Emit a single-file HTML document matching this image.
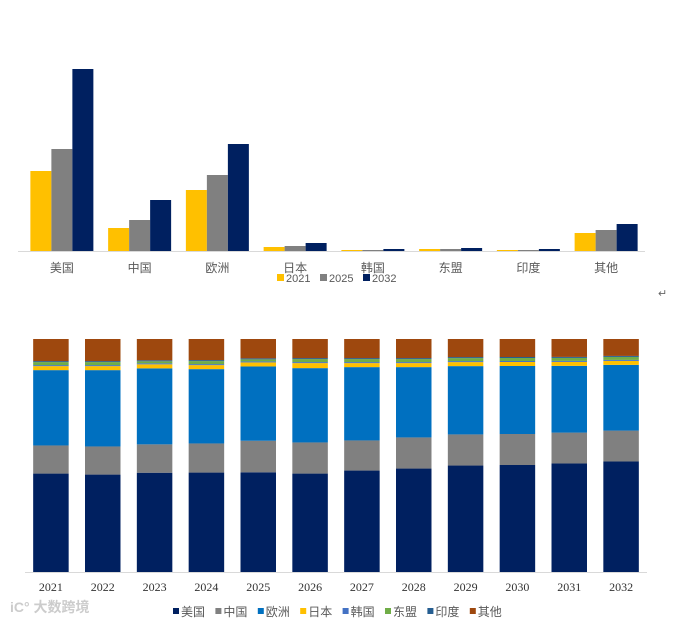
<!DOCTYPE html>
<html><head><meta charset="utf-8"><style>
html,body{margin:0;padding:0;background:#fff;}
svg{display:block;font-family:"Liberation Sans","Noto Sans CJK SC",sans-serif;}
</style></head><body>
<svg id="c" width="692" height="621" viewBox="0 0 692 621" xmlns="http://www.w3.org/2000/svg">
<g id="top"></g>
<g id="bot"></g>
<text x="658" y="297" font-size="11" fill="#666">↵</text>
<text x="10" y="612" font-size="14" fill="#ccc" font-weight="bold">iC° 大数跨境</text>
</svg>
<script>
const topCats = ["美国","中国","欧洲","日本","韩国","东盟","印度","其他"];
const topSeries = ["2021","2025","2032"];
const v2021 = [80,23,61,4,1,2,1,18];
const v2025 = [102,31,76,5,1,2,1,21];
const v2032 = [182,51,107,8,2,3,2,27];
const topMax = 182;

const years = ["2021","2022","2023","2024","2025","2026","2027","2028","2029","2030","2031","2032"];
const stackSeries = ["美国","中国","欧洲","日本","韩国","东盟","印度","其他"];
const sUS = [98,97,98,99,98,98,101,103,106,107,109,111];
const sCN = [28,28,28,29,31,31,30,31,31,31,31,31];
const sEU = [75,76,75,74,73,74,73,70,68,68,67,66];
const sJP = [4,4,4,4,4,5,4,4,4,4,4,4];
const sKR = [1,1,1,1,1,1,1,1,1,1,1,1];
const sAS = [3,3,2,3,2,3,3,3,3,3,3,3];
const sIN = [1,1,1,1,1,1,1,1,1,1,1,1];
const sOT = [22,22,21,21,19,19,19,19,18,18,18,17];

const NS="http://www.w3.org/2000/svg";
function mk(tag,attrs,parent){const e=document.createElementNS(NS,tag);for(const k in attrs)e.setAttribute(k,attrs[k]);parent.appendChild(e);return e;}

// Top chart
const T=document.getElementById('top');
const tx0=23,tx1=645,tBase=251,tH=182;
const gW=(tx1-tx0)/topCats.length, bW=21;
const topVals=[v2021,v2025,v2032], topCols=["#ffc000","#808080","#002060"];
const ty=v=>tBase-v/topMax*tH;
topCats.forEach((c,i)=>{
  const gx=tx0+i*gW+(gW-3*bW)/2;
  topVals.forEach((arr,s)=>{
    const r=mk('rect',{x:gx+s*bW,y:ty(arr[i]),width:bW,height:tBase-ty(arr[i]),fill:topCols[s]},T);
    
    
  });
  const t=mk('text',{x:tx0+i*gW+gW/2,y:272,'font-size':12,fill:'#595959','text-anchor':'middle'},T);
  t.textContent=c;
  
  
});
const ta=mk('line',{x1:tx0-5,x2:tx1,y1:tBase+0.5,y2:tBase+0.5,stroke:'#d9d9d9','stroke-width':1},T);


topSeries.forEach((s,k)=>{
  const lx=277+k*43;
  const m=mk('rect',{x:lx,y:274,width:7,height:7,fill:topCols[k]},T);
  
  
  const t=mk('text',{x:lx+9,y:282,'font-size':11,fill:'#595959'},T);
  t.textContent=s;
  
  
});

// Bottom chart
const B=document.getElementById('bot');
const bx0=25,bx1=647,bBase=572,bH=233;
const slot=(bx1-bx0)/years.length, sbW=35.5;
const stacks=[sUS,sCN,sEU,sJP,sKR,sAS,sIN,sOT];
const sCols=["#002060","#808080","#0070c0","#ffc000","#4472c4","#70ad47","#255e91","#9e480e"];
years.forEach((yr,i)=>{
  let tot=0; stacks.forEach(a=>tot+=a[i]);
  let acc=0;
  const x=bx0+i*slot+(slot-sbW)/2;
  stacks.forEach((a,s)=>{
    const y0=bBase-acc/tot*bH; acc+=a[i]; const y1=bBase-acc/tot*bH;
    const r=mk('rect',{x:x,y:y1,width:sbW,height:y0-y1,fill:sCols[s]},B);
    
    
  });
  const t=mk('text',{x:x+sbW/2,y:591,'font-size':12,fill:'#333','text-anchor':'middle','font-family':'"Liberation Serif",serif'},B);
  t.textContent=yr;
  
  
});
const ba=mk('line',{x1:bx0,x2:bx1,y1:bBase+0.5,y2:bBase+0.5,stroke:'#d9d9d9','stroke-width':1},B);


stackSeries.forEach((s,k)=>{
  const lx=173+k*42.4;
  const m=mk('rect',{x:lx,y:608,width:6,height:6,fill:sCols[k]},B);
  
  
  const t=mk('text',{x:lx+8,y:616,'font-size':12,fill:'#595959'},B);
  t.textContent=s;
  
  
});
</script>
</body></html>
